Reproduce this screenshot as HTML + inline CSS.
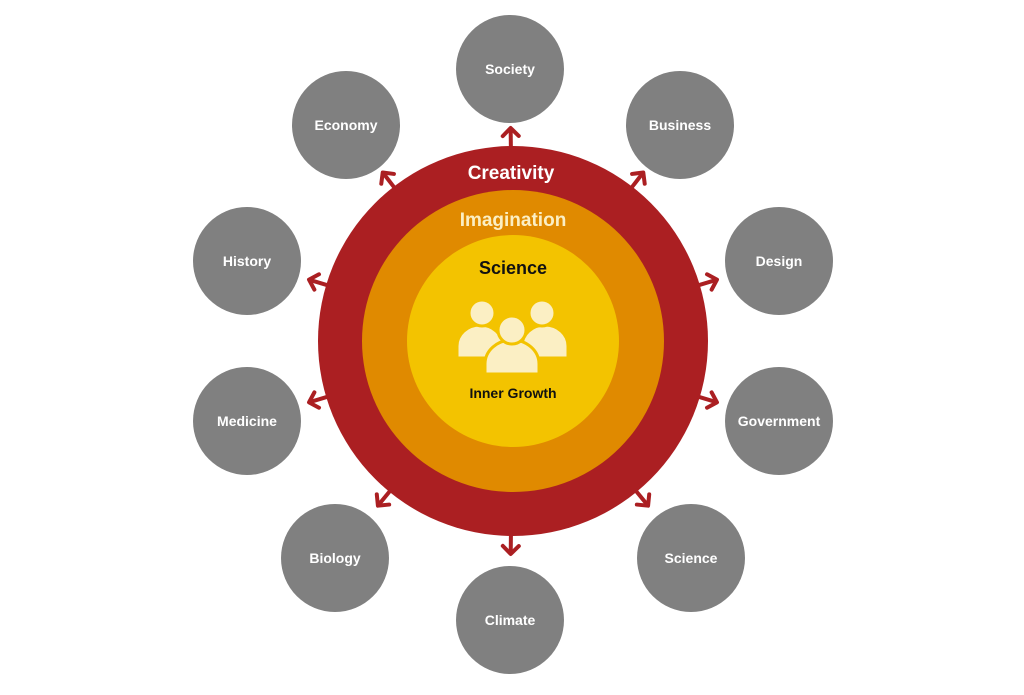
<!DOCTYPE html>
<html><head><meta charset="utf-8"><style>
html,body{margin:0;padding:0;background:#fff;width:1024px;height:695px;overflow:hidden}
svg{display:block}
text{font-family:"Liberation Sans",sans-serif;font-weight:bold}
</style></head><body>
<svg id="s" width="1024" height="695" viewBox="0 0 1024 695">
<circle cx="513" cy="341" r="195" fill="#ab1f22"/>
<circle cx="513" cy="341" r="151" fill="#e08a00"/>
<circle cx="513" cy="341" r="106" fill="#f3c300"/>
<text x="511" y="179" fill="#fff" font-size="19" text-anchor="middle">Creativity</text>
<text x="513" y="226" fill="#fbefc4" font-size="19" text-anchor="middle">Imagination</text>
<text x="513" y="274" fill="#111" font-size="18" text-anchor="middle">Science</text>
<g fill="#fbefc4" stroke="#f3c300" stroke-width="3">
<path d="M457 358 v-12 a23 21 0 0 1 46 0 v12z"/>
<path d="M522 358 v-12 a23 21 0 0 1 46 0 v12z"/>
<circle cx="482" cy="313" r="13"/>
<circle cx="542" cy="313" r="13"/>
<path d="M485 374 v-10 a27 24 0 0 1 54 0 v10z"/>
<circle cx="512" cy="330" r="14"/>
</g>
<text x="513" y="398" fill="#111" font-size="14" text-anchor="middle">Inner Growth</text>
<g id="n"></g>
</svg>
<script>
var nodes=[["Society",510,69],["Economy",346,125],["Business",680,125],["History",247,261],["Design",779,261],["Medicine",247,421],["Government",779,421],["Biology",335,558],["Science",691,558],["Climate",510,620]];
var g=document.getElementById("n"),h="";
nodes.forEach(function(d){
 h+='<circle cx="'+d[1]+'" cy="'+d[2]+'" r="54" fill="#808080"/>';
 h+='<text x="'+d[1]+'" y="'+(d[2]+5)+'" fill="#fff" font-size="14" text-anchor="middle">'+d[0]+'</text>';
 var dx=d[1]-513,dy=d[2]-341,L=Math.sqrt(dx*dx+dy*dy),ux=dx/L,uy=dy/L;
 var x1=513+ux*193,y1=341+uy*193,x2=513+ux*213,y2=341+uy*213;
 var px=-uy,py=ux,b=8;
 h+='<line x1="'+x1+'" y1="'+y1+'" x2="'+x2+'" y2="'+y2+'" stroke="#ab1f22" stroke-width="4"/>';
 h+='<polyline points="'+(x2-ux*b+px*b)+','+(y2-uy*b+py*b)+' '+x2+','+y2+' '+(x2-ux*b-px*b)+','+(y2-uy*b-py*b)+'" fill="none" stroke="#ab1f22" stroke-width="4" stroke-linecap="round" stroke-linejoin="round"/>';
});
g.innerHTML=h;
</script>
</body></html>
